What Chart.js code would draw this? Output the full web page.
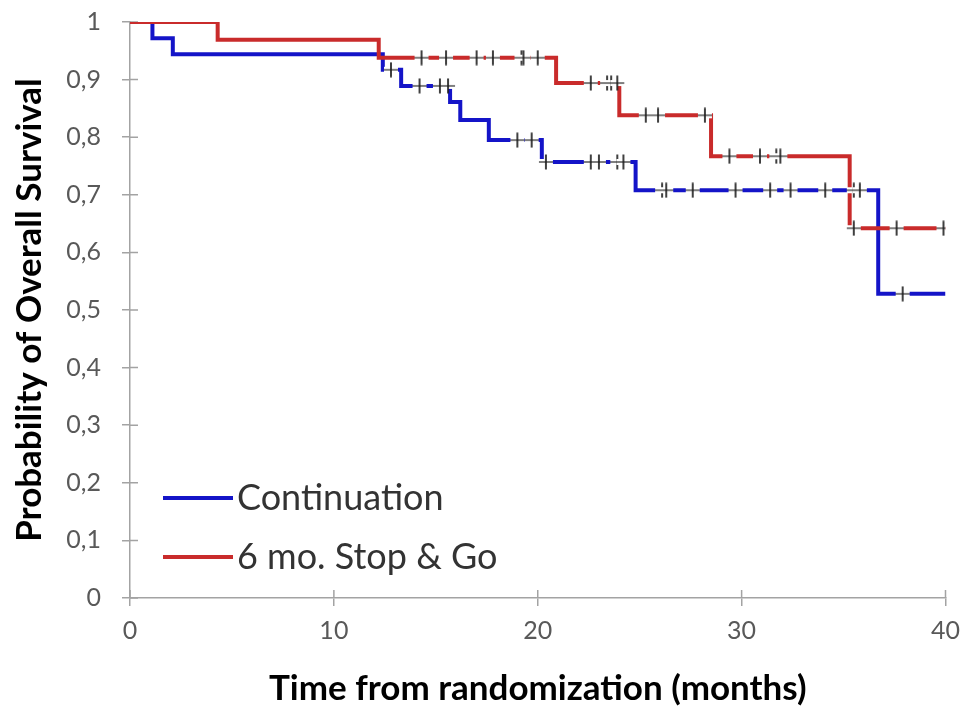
<!DOCTYPE html>
<html>
<head>
<meta charset="utf-8">
<title>Overall survival</title>
<script src="https://cdn.jsdelivr.net/npm/chart.js@4.4.1/dist/chart.umd.min.js"></script>
<style>
  html, body { margin: 0; padding: 0; background: #fff; }
</style>
</head>
<body>
<canvas id="km" width="970" height="706"></canvas>
<script>
// Kaplan-Meier overall survival by arm (months since randomization)
// step points: time of each death and survival just after it
const contTimes = [0, 1.1, 2.1, 12.4, 13.3, 15.7, 16.2, 17.6, 20.2, 24.8, 36.7, 40];
const contSurv  = [1, 0.972, 0.944, 0.917, 0.889, 0.861, 0.830, 0.795, 0.757, 0.708, 0.528, 0.528];
const contCensored = [12.8, 14.2, 15.2, 15.6, 19.0, 19.7, 20.4, 22.6, 23.0, 23.9, 24.2,
                      26.1, 26.3, 27.6, 29.7, 31.4, 32.4, 34.1, 35.5, 35.8, 37.9];

const stopTimes = [0, 4.3, 12.2, 20.9, 24.0, 28.5, 35.3, 40];
const stopSurv  = [1, 0.969, 0.938, 0.894, 0.838, 0.767, 0.642, 0.642];
const stopCensored = [14.3, 15.5, 17.0, 17.8, 19.2, 19.3, 20.0, 22.6, 23.4, 23.6, 23.9,
                      25.3, 25.9, 28.2, 29.4, 30.9, 31.7, 31.9, 35.5, 37.6, 39.9];

const armNames = ['Continuation', '6 mo. Stop & Go'];
const xTickValues = [0, 10, 20, 30, 40];
const yTickValues = [0, 0.1, 0.2, 0.3, 0.4, 0.5, 0.6, 0.7, 0.8, 0.9, 1];
const yTickLabels = ['0', '0,1', '0,2', '0,3', '0,4', '0,5', '0,6', '0,7', '0,8', '0,9', '1'];

const BLUE = '#1414c8';
const RED = '#c92b2b';
const AXIS = '#a3a3a3';

Chart.defaults.font.family = 'Lato, "Open Sans", sans-serif';

function toPoints(times, surv) {
    return times.map((t, i) => ({ x: t, y: surv[i] }));
}

// survival level of the curve at time t (censor marks sit on the curve)
function survAt(times, surv, t) {
    let s = surv[0];
    for (let i = 0; i < times.length; i++) {
        if (times[i] <= t) s = surv[i];
    }
    return s;
}

function censorPoints(list, times, surv) {
    return list.map(t => ({ x: t, y: survAt(times, surv, t) }));
}

// "+" tick for censored patients, blanks the curve under its arm
function makeTick() {
    const c = document.createElement('canvas');
    c.width = 16;
    c.height = 16;
    const g = c.getContext('2d');
    g.fillStyle = '#ffffff';
    g.fillRect(1, 5, 14, 6);
    g.strokeStyle = '#3a3a3a';
    g.lineWidth = 1.3;
    g.beginPath();
    g.moveTo(1, 8);
    g.lineTo(15, 8);
    g.stroke();
    g.strokeStyle = '#1e1e1e';
    g.lineWidth = 1.7;
    g.beginPath();
    g.moveTo(8, 0.5);
    g.lineTo(8, 15.5);
    g.stroke();
    return c;
}
const tick = makeTick();

// inner half of the axis ticks + legend box inside the plot
const extras = {
    id: 'extras',
    beforeDatasetsDraw(chart) {
        const { ctx, chartArea, scales } = chart;
        ctx.save();
        ctx.strokeStyle = AXIS;
        ctx.lineWidth = 1.5;
        ctx.beginPath();
        scales.x.ticks.forEach(t => {
            const px = scales.x.getPixelForValue(t.value);
            ctx.moveTo(px, chartArea.bottom);
            ctx.lineTo(px, chartArea.bottom - 8);
        });
        scales.y.ticks.forEach(t => {
            const py = scales.y.getPixelForValue(t.value);
            ctx.moveTo(chartArea.left, py);
            ctx.lineTo(chartArea.left + 8, py);
        });
        ctx.stroke();
        ctx.restore();
    },
    afterDraw(chart) {
        const { ctx, chartArea } = chart;
        const rows = [
            { text: armNames[0], color: BLUE, y: chartArea.bottom - 100 },
            { text: armNames[1], color: RED, y: chartArea.bottom - 41 }
        ];
        ctx.save();
        ctx.font = '36px Lato, "Open Sans", sans-serif';
        ctx.textBaseline = 'middle';
        rows.forEach(r => {
            ctx.strokeStyle = r.color;
            ctx.lineWidth = 4;
            ctx.beginPath();
            ctx.moveTo(chartArea.left + 33, r.y);
            ctx.lineTo(chartArea.left + 103, r.y);
            ctx.stroke();
            ctx.fillStyle = '#333333';
            ctx.fillText(r.text, chartArea.left + 107, r.y);
        });
        ctx.restore();
    }
};

const ctx = document.getElementById('km');

new Chart(ctx, {
    type: 'line',
    data: {
        datasets: [
            {
                label: armNames[1],
                data: toPoints(stopTimes, stopSurv),
                borderColor: RED,
                borderWidth: 4,
                stepped: true,
                pointRadius: 0,
                fill: false,
                order: 2
            },
            {
                label: armNames[0],
                data: toPoints(contTimes, contSurv),
                borderColor: BLUE,
                borderWidth: 4,
                stepped: true,
                pointRadius: 0,
                fill: false,
                order: 3
            },
            {
                label: 'censored ' + armNames[0],
                data: censorPoints(contCensored, contTimes, contSurv),
                showLine: false,
                pointStyle: tick,
                pointRadius: 8,
                order: 1
            },
            {
                label: 'censored ' + armNames[1],
                data: censorPoints(stopCensored, stopTimes, stopSurv),
                showLine: false,
                pointStyle: tick,
                pointRadius: 8,
                order: 1
            }
        ]
    },
    options: {
        responsive: false,
        devicePixelRatio: 1,
        animation: false,
        layout: { padding: { top: 22, right: 22, left: 0, bottom: 0 } },
        plugins: {
            legend: { display: false },
            tooltip: { enabled: false }
        },
        scales: {
            x: {
                type: 'linear',
                min: 0,
                max: 40,
                afterBuildTicks: s => { s.ticks = xTickValues.map(v => ({ value: v })); },
                afterFit: s => { s.height = 108; },
                grid: { drawOnChartArea: false, color: AXIS, lineWidth: 1.5, tickLength: 8 },
                border: { color: AXIS, width: 1.5 },
                ticks: {
                    color: '#595959',
                    font: { size: 25 },
                    padding: 10
                },
                title: {
                    display: true,
                    text: 'Time from randomization (months)',
                    color: '#000',
                    font: { size: 35, weight: 'bold', lineHeight: 1 },
                    padding: { top: 0, bottom: 0 }
                }
            },
            y: {
                min: 0,
                max: 1,
                afterBuildTicks: s => { s.ticks = yTickValues.map(v => ({ value: v })); },
                // fixed axis width; label padding shouldn't push the plot top down
                afterFit: s => { s.width = 130; s.paddingTop = 10; s.paddingBottom = 10; },
                grid: { drawOnChartArea: false, color: AXIS, lineWidth: 1.5, tickLength: 8 },
                border: { color: AXIS, width: 1.5 },
                ticks: {
                    color: '#595959',
                    font: { size: 25 },
                    padding: 21,
                    callback: (v, i) => yTickLabels[i]
                },
                title: {
                    display: true,
                    text: 'Probability of Overall Survival',
                    color: '#000',
                    font: { size: 35, weight: 'bold', lineHeight: 1 },
                    padding: { top: 12, bottom: 0 }
                }
            }
        }
    },
    plugins: [extras]
});
</script>
</body>
</html>
